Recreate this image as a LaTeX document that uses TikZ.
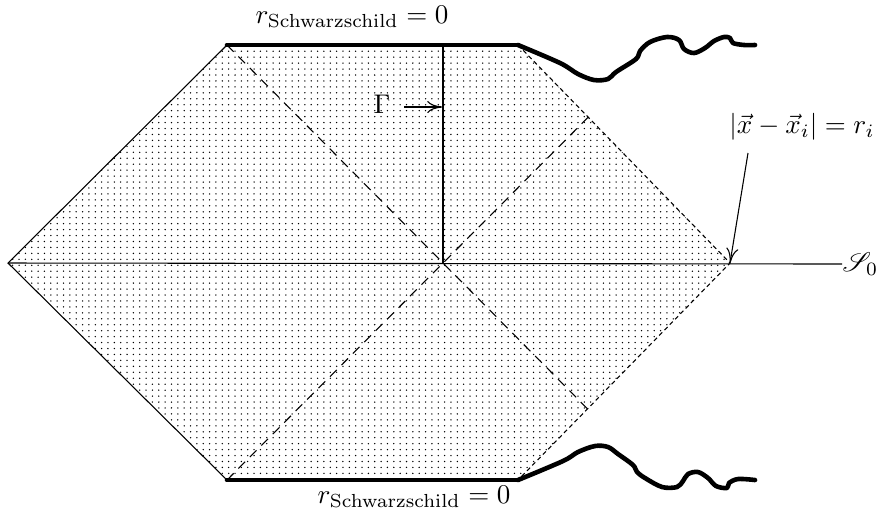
\documentclass[tikz,border=0pt]{standalone}
\usepackage{mathrsfs}
\usetikzlibrary{arrows.meta,patterns}
\pgfdeclarepatternformonly{finedots}{\pgfqpoint{-0.5pt}{-0.5pt}}{\pgfqpoint{0.5pt}{0.5pt}}{\pgfqpoint{2.35pt}{2.2pt}}{\pgfpathcircle{\pgfpointorigin}{0.28pt}\pgfusepath{fill}}

\begin{document}
\begin{tikzpicture}[x=0.37pt,y=-0.37pt,>={To[length=5.5pt,width=4.5pt]}]
\tikzstyle{sing}=[line width=1.7pt,line join=round,line cap=round]
\tikzstyle{null}=[dash pattern=on 3.5pt off 2.5pt]
\tikzstyle{edge}=[dash pattern=on 1.6pt off 1.2pt]
\useasboundingbox (0,0) rectangle (876,515);
\coordinate (L) at (8,263);
\coordinate (TL) at (227,45);
\coordinate (TR) at (518,45);
\coordinate (R) at (730,263);
\coordinate (BR) at (518,480);
\coordinate (BL) at (227,480);
\coordinate (C) at (443,263);
\coordinate (G) at (443,45);
\coordinate (NE) at (intersection of BL--C and TR--R);
\coordinate (SE) at (intersection of TL--C and R--BR);
\fill[pattern=finedots] (L) -- (TL) -- (TR) -- (R) -- (BR) -- (BL) -- cycle;
\draw[null] (TL) -- (SE);
\draw[null] (BL) -- (NE);
\draw[edge] (TR) -- (R) -- (BR);
\draw (TL) -- (L) -- (BL);
\draw (G) -- (C);
\draw[sing] (TL) -- (TR);
\draw[sing] (BL) -- (BR);
\draw[sing] plot[smooth,tension=0.55] coordinates {(TR) (560,63) (578,74) (594,80) (608,79) (616,72) (636,59) (640,51) (650,42) (667,37) (679,40) (684,49) (694,53) (705,48) (714,41) (724,37) (730,38) (733,43) (744,45) (755,45)};
\draw[sing] plot[smooth,tension=0.55] coordinates {(BR) (563,461) (578,452) (595,446) (608,447) (618,454) (633,465) (637,472) (645,478) (662,487) (677,487) (683,481) (688,474) (698,472) (708,478) (716,486) (727,488) (729,483) (738,479) (755,480)};
\node[anchor=west,inner sep=0pt] (scri) at (842,264) {$\mathscr{S}_0$};
\draw (L) -- (scri.west);
\node (gam) at (382,104) {$\Gamma$};
\coordinate (gtip) at (442,107);
\draw[->,shorten <=1.5pt] (gam.east |- gtip) -- (gtip);
\node (dist) at (802,127) {$|\vec{x}-\vec{x}_i| = r_i$};
\coordinate (dtail) at (748,153);
\draw[->] (dtail) -- (R);
\node[anchor=east,inner sep=0pt] (rtop) at (449,17) {$r_{\mathrm{Schwarzschild}} = 0$};
\node[anchor=east,inner sep=0pt] (rbot) at (511,497) {$r_{\mathrm{Schwarzschild}} = 0$};
\end{tikzpicture}
\end{document}
